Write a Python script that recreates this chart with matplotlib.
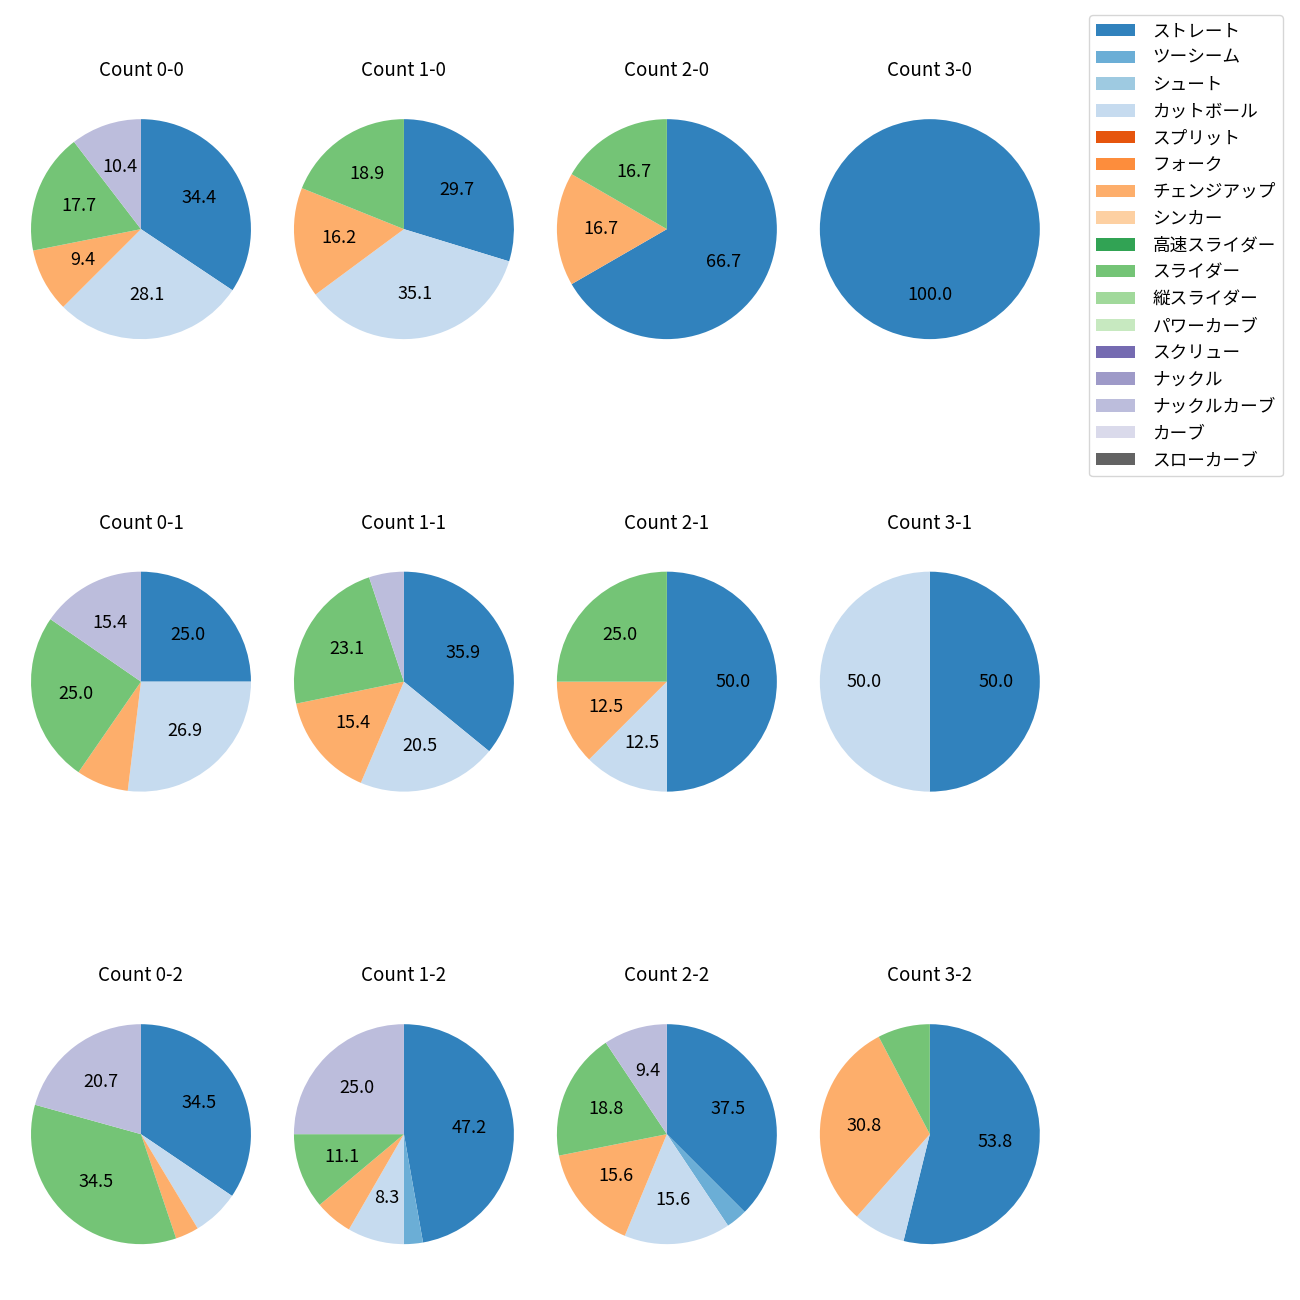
import numpy as np
import matplotlib.pyplot as plt
from matplotlib.patches import Patch

plt.rcParams['font.family'] = ['Noto Sans CJK JP', 'DejaVu Sans']
plt.rcParams['font.size'] = 12

pitch_types = ['ストレート', 'ツーシーム', 'シュート', 'カットボール', 'スプリット', 'フォーク',
               'チェンジアップ', 'シンカー', '高速スライダー', 'スライダー', '縦スライダー',
               'パワーカーブ', 'スクリュー', 'ナックル', 'ナックルカーブ', 'カーブ', 'スローカーブ']

# pitch counts per ball-strike count, in pitch_types order
#                 St Tw Sh Ct Sp Fk Ch Si HS Sl VS PC Sc Kn KC Cv SC
count_0_0 = [33, 0, 0, 27, 0, 0, 9, 0, 0, 17, 0, 0, 0, 0, 10, 0, 0]
count_1_0 = [11, 0, 0, 13, 0, 0, 6, 0, 0, 7, 0, 0, 0, 0, 0, 0, 0]
count_2_0 = [4, 0, 0, 0, 0, 0, 1, 0, 0, 1, 0, 0, 0, 0, 0, 0, 0]
count_3_0 = [3, 0, 0, 0, 0, 0, 0, 0, 0, 0, 0, 0, 0, 0, 0, 0, 0]
count_0_1 = [13, 0, 0, 14, 0, 0, 4, 0, 0, 13, 0, 0, 0, 0, 8, 0, 0]
count_1_1 = [14, 0, 0, 8, 0, 0, 6, 0, 0, 9, 0, 0, 0, 0, 2, 0, 0]
count_2_1 = [4, 0, 0, 1, 0, 0, 1, 0, 0, 2, 0, 0, 0, 0, 0, 0, 0]
count_3_1 = [1, 0, 0, 1, 0, 0, 0, 0, 0, 0, 0, 0, 0, 0, 0, 0, 0]
count_0_2 = [10, 0, 0, 2, 0, 0, 1, 0, 0, 10, 0, 0, 0, 0, 6, 0, 0]
count_1_2 = [17, 1, 0, 3, 0, 0, 2, 0, 0, 4, 0, 0, 0, 0, 9, 0, 0]
count_2_2 = [12, 1, 0, 5, 0, 0, 5, 0, 0, 6, 0, 0, 0, 0, 3, 0, 0]
count_3_2 = [7, 0, 0, 1, 0, 0, 4, 0, 0, 1, 0, 0, 0, 0, 0, 0, 0]

panels = [
    ('Count 0-0', count_0_0), ('Count 1-0', count_1_0), ('Count 2-0', count_2_0), ('Count 3-0', count_3_0),
    ('Count 0-1', count_0_1), ('Count 1-1', count_1_1), ('Count 2-1', count_2_1), ('Count 3-1', count_3_1),
    ('Count 0-2', count_0_2), ('Count 1-2', count_1_2), ('Count 2-2', count_2_2), ('Count 3-2', count_3_2),
]

colors = plt.get_cmap('tab20c').colors[:17]

fig, axes = plt.subplots(3, 4, figsize=(13, 13), dpi=100)
fig.subplots_adjust(left=0.0027, right=0.821, top=0.939, bottom=0.0123, wspace=-0.0436, hspace=0.51)

for ax, (title, vals) in zip(axes.flat, panels):
    vals = np.array(vals, dtype=float)
    keep = vals > 0
    v = vals[keep]
    c = [col for col, k in zip(colors, keep) if k]
    ax.pie(v, colors=c, startangle=90, counterclock=False,
           autopct=lambda p: f'{p:.1f}' if p >= 8 else '', textprops={'fontsize': 13})
    ax.set_title(title, fontsize=13.5, pad=11)

handles = [Patch(facecolor=col, label=lab) for col, lab in zip(colors, pitch_types)]
fig.legend(handles=handles, loc='upper right', bbox_to_anchor=(1283 / 1300, 1 - 15 / 1300),
           fontsize=12.7, frameon=True, borderaxespad=0, handlelength=2.2, handletextpad=1.0)

fig.savefig('out.png', dpi=100)
